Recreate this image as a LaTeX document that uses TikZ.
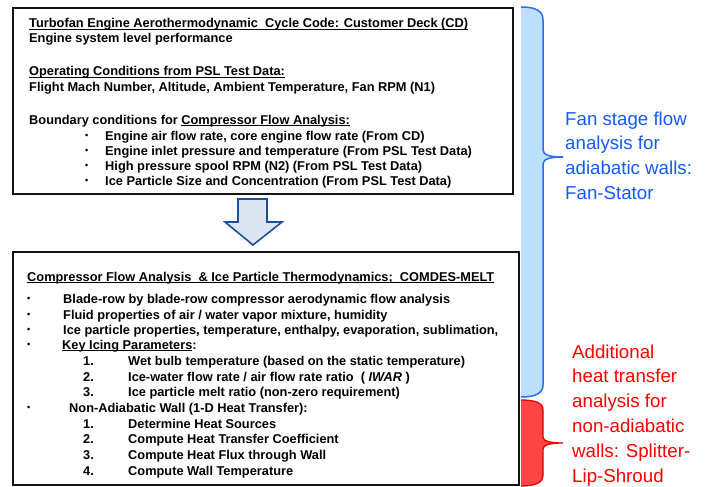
\documentclass[tikz,border=0pt]{standalone}
\usepackage{fontspec}
\setmainfont{Liberation Sans}
\definecolor{boxline}{rgb}{0.08,0.08,0.08}
\definecolor{arrowfill}{RGB}{220,230,242}
\definecolor{arrowline}{RGB}{31,78,153}
\definecolor{bbfill}{RGB}{189,224,255}
\definecolor{bbline}{RGB}{40,110,255}
\definecolor{bluetext}{RGB}{20,90,255}
\definecolor{rbfill}{RGB}{255,70,70}
\definecolor{rbline}{RGB}{230,0,0}
\definecolor{redtext}{RGB}{255,0,0}
\newcommand\myul[1]{\setbox0\hbox{#1}\rlap{\rule[-1.7pt]{\wd0}{0.8pt}}\box0}
\tikzset{
  panel/.style={draw=boxline, line width=1.8pt},
  ln/.style={anchor=base west, inner sep=0pt, font=\fontsize{12.8}{15}\selectfont\bfseries},
  bul/.style={anchor=base west, inner sep=0pt, yshift=1.4pt, font=\fontsize{9}{9}\selectfont\bfseries},
  side/.style={anchor=base west, inner sep=0pt, font=\fontsize{18.7}{24.7}\selectfont},
}
\begin{document}
\begin{tikzpicture}[x=1pt,y=-1pt]
\useasboundingbox[fill=white] (0,0) rectangle (707,487);
% boxes
\draw[panel] (13,8) rectangle (513,194);
\draw[panel] (13,252) rectangle (519,485);
% block arrow
\draw[draw=arrowline, fill=arrowfill, line width=1.6pt, line join=miter]
  (238,199) -- (267,199) -- (267,222) -- (282,222) -- (253,245) -- (225,222) -- (238,222) -- cycle;
% top box text
\node[ln] (t1) at (29,28) {\myul{Turbofan Engine Aerothermodynamic\ \ Cycle Code: Customer Deck (CD)}};
\node[ln] (t2) at (29,42.7) {Engine system level performance};
\node[ln] (t3) at (29,76) {\myul{Operating Conditions from PSL Test Data:}};
\node[ln] (t4) at (29,91.5) {Flight Mach Number, Altitude, Ambient Temperature, Fan RPM (N1)};
\node[ln] (t5) at (29,124) {Boundary conditions for \myul{Compressor Flow Analysis:}};
\foreach \y/\txt [count=\i] in {140/{Engine air flow rate, core engine flow rate (From CD)},
  155/{Engine inlet pressure and temperature (From PSL Test Data)},
  170/{High pressure spool RPM (N2) (From PSL Test Data)},
  185.3/{Ice Particle Size and Concentration (From PSL Test Data)}}{
  \node[bul] (tb\i) at (85,\y) {•};
  \node[ln] (tt\i) at (105,\y) {\txt};
}
% bottom box text
\node[ln] (b0) at (27,281) {\myul{Compressor Flow Analysis\ \ \& Ice Particle Thermodynamics;\ \ COMDES-MELT}};
\foreach \y/\txt [count=\i] in {303/{Blade-row by blade-row compressor aerodynamic\ flow analysis},
  319/{Fluid properties of air / water vapor mixture, humidity},
  334/{Ice particle properties, temperature, enthalpy, evaporation, sublimation,}}{
  \node[bul] (bb\i) at (27,\y) {•};
  \node[ln] (bt\i) at (63,\y) {\txt};
}
\node[bul] (bb4) at (27,349) {•};
\node[ln] (bt4) at (62,349) {\myul{Key Icing Parameters}:};
\foreach \y/\n/\txt [count=\i] in {365/1./{Wet bulb temperature (based on the static temperature)},
  381/2./{Ice-water flow rate / air flow rate ratio\ \ ( \textit{IWAR} )},
  396/3./{Ice particle melt ratio (non-zero requirement)}}{
  \node[ln] (kn\i) at (83,\y) {\n};
  \node[ln] (kt\i) at (128,\y) {\txt};
}
\node[bul] (bb5) at (27,412) {•};
\node[ln] (bt5) at (69,412) {Non-Adiabatic Wall (1-D Heat Transfer):};
\foreach \y/\n/\txt [count=\i] in {428/1./{Determine Heat Sources},
  443/2./{Compute Heat Transfer Coefficient},
  459/3./{Compute Heat Flux through Wall},
  475/4./{Compute Wall Temperature}}{
  \node[ln] (hn\i) at (83,\y) {\n};
  \node[ln] (ht\i) at (128,\y) {\txt};
}
% blue brace
\fill[bbfill] (521,7) .. controls (536,7) and (543,11) .. (543,20) -- (543,150)
  .. controls (543,155) and (550,157) .. (563,157) .. controls (550,157) and (543,159) .. (543,164)
  -- (543,385) .. controls (543,393) and (536,397) .. (521,397) -- cycle;
\draw[bbline, line width=1.5pt] (521,7) .. controls (536,7) and (543,11) .. (543,20) -- (543,150)
  .. controls (543,155) and (550,157) .. (563,157) .. controls (550,157) and (543,159) .. (543,164)
  -- (543,385) .. controls (543,393) and (536,397) .. (521,397);
% red brace
\fill[rbfill] (521,400) .. controls (536,400) and (543,403) .. (543,410) -- (543,437)
  .. controls (543,441) and (550,443) .. (563,443) .. controls (550,443) and (543,445) .. (543,449)
  -- (543,476) .. controls (543,482) and (536,486) .. (521,486) -- cycle;
\draw[rbline, line width=1.3pt] (521,400) .. controls (536,400) and (543,403) .. (543,410) -- (543,437)
  .. controls (543,441) and (550,443) .. (563,443) .. controls (550,443) and (543,445) .. (543,449)
  -- (543,476) .. controls (543,482) and (536,486) .. (521,486);
% side texts
\foreach \y/\txt [count=\i] in {125/{Fan stage flow}, 149.7/{analysis for}, 174.4/{adiabatic walls:}, 199/{Fan-Stator}}{
  \node[side, text=bluetext] (s\i) at (565,\y) {\txt};
}
\foreach \y/\txt [count=\i] in {358/{Additional}, 382.8/{heat transfer}, 407.6/{analysis for}, 432.4/{non-adiabatic}, 457.2/{walls: Splitter-}, 482/{Lip-Shroud}}{
  \node[side, text=redtext] (r\i) at (572,\y) {\txt};
}
\end{tikzpicture}
\end{document}
